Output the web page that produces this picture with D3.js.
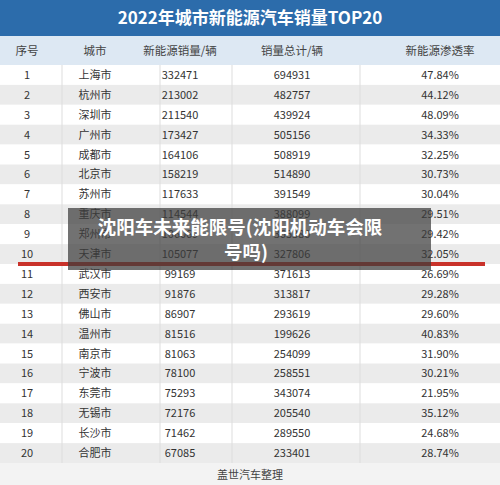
<!DOCTYPE html><html><head><meta charset="utf-8"><script src="https://cdn.jsdelivr.net/npm/d3@7"></script>
<style>body{margin:0;background:#fff}</style></head><body><svg id="c" width="500" height="485"></svg><script>
const ranks=d3.range(1,21);
const cities=["上海市","杭州市","深圳市","广州市","成都市","北京市","苏州市","重庆市","郑州市","天津市","武汉市","西安市","佛山市","温州市","南京市","宁波市","东莞市","无锡市","长沙市","合肥市"];
const nevSales=["332471","213002","211540","173427","164106","158219","117633","114544","106069","105077","99169","91876","86907","81516","81063","78100","75293","72176","71462","67085"];
const totalSales=["694931","482757","439924","505156","508919","514890","391549","388099","365380","327806","371613","313817","293619","199626","254099","258551","343074","205540","289550","233401"];
const penetration=["47.84%","44.12%","48.09%","34.33%","32.25%","30.73%","30.04%","29.51%","29.42%","32.05%","26.69%","29.28%","29.60%","40.83%","31.90%","30.21%","21.95%","35.12%","24.68%","28.74%"];
const headers=["序号","城市","新能源销量/辆","销量总计/辆","新能源渗透率"];
const svg=d3.select("#c");const F="Noto Sans CJK SC";
const colX=[27,95,180,292,440];
const y=d3.scaleBand().domain(ranks).range([65,463]);
svg.append("rect").attr("width",500).attr("height",36).attr("fill","#2c6cab");
svg.append("text").attr("x",250).attr("y",24).attr("text-anchor","middle").attr("fill","#fff").attr("font-family",F).attr("font-weight","bold").attr("font-size",17).text("2022年城市新能源汽车销量TOP20");
svg.append("rect").attr("y",36).attr("width",500).attr("height",29).attr("fill","#dde8f3");
headers.forEach((h,i)=>svg.append("text").attr("x",colX[i]).attr("y",55).attr("text-anchor","middle").attr("font-family",F).attr("font-size",11.5).attr("fill","#444").text(h));
const g=svg.selectAll("g.r").data(ranks).enter().append("g");
g.append("rect").attr("y",d=>y(d)).attr("width",500).attr("height",y.bandwidth()).attr("fill",d=>d%2?"#ffffff":"#ebebeb");
const cols=[ranks.map(String),cities,nevSales,totalSales,penetration];
cols.forEach((arr,i)=>g.append("text").attr("x",colX[i]).attr("y",d=>y(d)+y.bandwidth()/2+4).attr("text-anchor","middle").attr("font-family",F).attr("font-size",11).attr("fill","#333").text(d=>arr[d-1]));
[62,160,232,360].forEach(v=>svg.append("line").attr("x1",v).attr("x2",v).attr("y1",65).attr("y2",463).attr("stroke","#ddd"));
svg.append("rect").attr("x",18).attr("y",y(10)+y.bandwidth()-2).attr("width",467).attr("height",4).attr("fill","#c9322a");
svg.append("rect").attr("y",463).attr("width",500).attr("height",22).attr("fill","#f3f3f3");
svg.append("text").attr("x",250).attr("y",479).attr("text-anchor","middle").attr("font-family",F).attr("font-size",11).attr("fill","#444").text("盖世汽车整理");
svg.append("rect").attr("x",68).attr("y",208).attr("width",363).attr("height",62).attr("fill","rgba(60,60,60,0.72)");
const t=svg.append("text").attr("font-family",F).attr("font-weight","bold").attr("font-size",18.5).attr("fill","#fff").attr("text-anchor","middle");
t.append("tspan").attr("x",240).attr("y",234).text("沈阳车未来能限号(沈阳机动车会限");
t.append("tspan").attr("x",246).attr("y",259).text("号吗)");
</script></body></html>
